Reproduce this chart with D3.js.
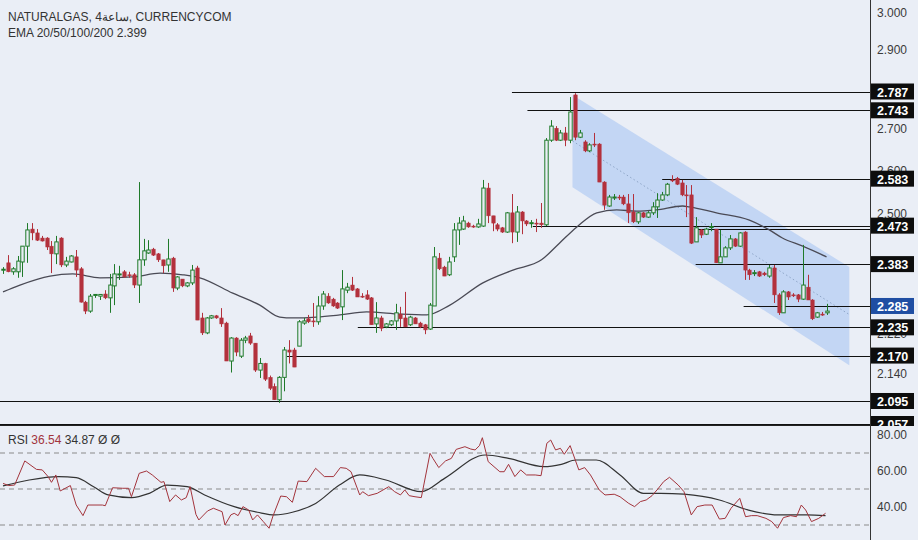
<!DOCTYPE html>
<html><head><meta charset="utf-8">
<script src="https://cdn.jsdelivr.net/npm/d3@7"></script>
<style>body{margin:0;background:#eaeef6;}svg{display:block;font-family:"Liberation Sans",Arial,sans-serif;}</style>
</head><body><svg id="c" width="918" height="540"></svg>
<script>
// candles [open, high, low, close]
const candles = [
[2.369,2.376,2.360,2.371],[2.386,2.404,2.364,2.365],[2.365,2.376,2.358,2.372],[2.365,2.402,2.351,2.390],[2.388,2.425,2.353,2.425],
[2.425,2.479,2.386,2.463],[2.465,2.479,2.439,2.456],[2.456,2.465,2.437,2.439],[2.444,2.449,2.436,2.437],[2.444,2.446,2.416,2.423],
[2.425,2.437,2.362,2.407],[2.407,2.449,2.383,2.435],[2.444,2.446,2.376,2.381],[2.381,2.400,2.376,2.390],[2.388,2.404,2.387,2.402],
[2.400,2.416,2.353,2.369],[2.372,2.376,2.293,2.294],[2.294,2.297,2.266,2.273],[2.273,2.313,2.269,2.308],[2.311,2.313,2.304,2.312],
[2.308,2.313,2.299,2.312],[2.313,2.322,2.301,2.304],[2.304,2.360,2.269,2.334],[2.332,2.383,2.287,2.360],[2.358,2.379,2.346,2.360],
[2.365,2.369,2.351,2.353],[2.358,2.365,2.351,2.357],[2.358,2.362,2.327,2.334],[2.334,2.575,2.292,2.393],[2.393,2.442,2.379,2.414],
[2.409,2.439,2.407,2.416],[2.418,2.421,2.402,2.404],[2.407,2.409,2.388,2.393],[2.393,2.393,2.362,2.379],[2.381,2.442,2.365,2.395],
[2.397,2.400,2.318,2.327],[2.327,2.355,2.322,2.353],[2.348,2.348,2.329,2.332],[2.332,2.341,2.329,2.339],[2.339,2.381,2.334,2.369],
[2.374,2.379,2.252,2.252],[2.257,2.269,2.217,2.222],[2.222,2.259,2.219,2.257],[2.257,2.264,2.255,2.262],[2.262,2.264,2.255,2.257],
[2.257,2.280,2.236,2.243],[2.245,2.248,2.161,2.161],[2.161,2.212,2.142,2.210],[2.210,2.212,2.169,2.177],[2.169,2.210,2.166,2.205],
[2.205,2.215,2.198,2.210],[2.215,2.222,2.194,2.198],[2.198,2.198,2.143,2.146],[2.146,2.166,2.133,2.157],[2.157,2.158,2.128,2.131],
[2.134,2.137,2.113,2.116],[2.119,2.124,2.097,2.097],[2.097,2.136,2.092,2.134],[2.134,2.189,2.111,2.182],[2.182,2.205,2.157,2.177],
[2.182,2.187,2.151,2.151],[2.191,2.252,2.191,2.248],[2.245,2.257,2.241,2.250],[2.255,2.264,2.245,2.248],[2.250,2.292,2.236,2.248],
[2.248,2.308,2.241,2.285],[2.285,2.320,2.276,2.313],[2.308,2.315,2.290,2.292],[2.301,2.304,2.283,2.285],[2.292,2.294,2.278,2.280],
[2.283,2.369,2.252,2.325],[2.322,2.339,2.315,2.329],[2.334,2.353,2.320,2.322],[2.325,2.327,2.306,2.306],[2.308,2.315,2.304,2.307],
[2.311,2.322,2.299,2.301],[2.304,2.306,2.241,2.241],[2.243,2.294,2.222,2.257],[2.257,2.262,2.226,2.233],[2.236,2.245,2.233,2.243],
[2.241,2.252,2.238,2.250],[2.250,2.290,2.229,2.269],[2.266,2.283,2.236,2.255],[2.257,2.318,2.236,2.236],[2.241,2.262,2.238,2.259],
[2.257,2.259,2.243,2.243],[2.245,2.248,2.233,2.236],[2.241,2.243,2.219,2.229],[2.231,2.292,2.229,2.287],[2.285,2.423,2.285,2.400],
[2.397,2.409,2.369,2.372],[2.376,2.379,2.355,2.355],[2.358,2.400,2.355,2.388],[2.400,2.479,2.388,2.463],[2.463,2.493,2.428,2.479],
[2.465,2.496,2.463,2.484],[2.479,2.482,2.468,2.470],[2.472,2.475,2.468,2.470],[2.470,2.489,2.468,2.477],[2.472,2.580,2.470,2.561],
[2.561,2.573,2.479,2.496],[2.496,2.496,2.460,2.479],[2.475,2.479,2.460,2.465],[2.468,2.470,2.456,2.458],[2.458,2.505,2.456,2.503],
[2.503,2.547,2.432,2.458],[2.458,2.519,2.435,2.505],[2.505,2.507,2.453,2.484],[2.484,2.486,2.472,2.477],[2.479,2.486,2.468,2.480],
[2.479,2.489,2.458,2.477],[2.479,2.526,2.468,2.475],[2.475,2.678,2.472,2.673],[2.673,2.720,2.669,2.706],[2.701,2.706,2.671,2.673],
[2.673,2.697,2.671,2.690],[2.690,2.704,2.659,2.673],[2.673,2.774,2.666,2.739],[2.779,2.783,2.673,2.680],[2.680,2.697,2.678,2.690],
[2.669,2.673,2.645,2.648],[2.648,2.666,2.645,2.662],[2.664,2.690,2.657,2.663],[2.664,2.666,2.575,2.575],[2.575,2.577,2.510,2.521],
[2.519,2.545,2.517,2.540],[2.538,2.547,2.533,2.540],[2.540,2.545,2.533,2.539],[2.540,2.545,2.521,2.524],[2.524,2.547,2.479,2.503],
[2.505,2.547,2.479,2.482],[2.482,2.505,2.477,2.503],[2.503,2.505,2.491,2.493],[2.493,2.507,2.491,2.503],[2.503,2.528,2.498,2.517],
[2.517,2.549,2.491,2.533],[2.533,2.552,2.531,2.545],[2.545,2.573,2.542,2.570],[2.580,2.591,2.575,2.579],[2.584,2.587,2.568,2.570],
[2.573,2.580,2.542,2.545],[2.545,2.568,2.493,2.544],[2.545,2.568,2.430,2.432],[2.435,2.493,2.435,2.468],[2.463,2.465,2.444,2.451],
[2.453,2.468,2.451,2.465],[2.470,2.479,2.460,2.471],[2.465,2.465,2.386,2.386],[2.386,2.463,2.386,2.400],[2.400,2.425,2.400,2.421],
[2.421,2.451,2.416,2.442],[2.442,2.444,2.423,2.425],[2.425,2.458,2.423,2.456],[2.458,2.460,2.346,2.369],[2.369,2.372,2.346,2.358],
[2.362,2.369,2.355,2.363],[2.365,2.367,2.353,2.355],[2.362,2.365,2.355,2.358],[2.355,2.381,2.351,2.374],[2.374,2.381,2.292,2.311],
[2.311,2.315,2.264,2.269],[2.269,2.322,2.269,2.318],[2.318,2.320,2.299,2.306],[2.311,2.315,2.306,2.310],[2.311,2.313,2.294,2.301],
[2.301,2.428,2.299,2.334],[2.329,2.358,2.299,2.299],[2.299,2.301,2.252,2.255],[2.259,2.271,2.257,2.269],[2.266,2.271,2.262,2.265],
[2.269,2.290,2.264,2.273]
];
const emaIdx = [0,3.5,9.7,14.4,20,26.8,32.4,37.1,40.6,47.4,53,57.1,59.8,64.7,69.5,75,81.9,87.4,92.2,99,105.2,111.1,114.8,118.4,122.5,126.6,130.7,134.8,140.2,141.6,147.2,154,158.1,160.8,165,169.9];
const emaVal = [2.318,2.334,2.355,2.360,2.351,2.353,2.362,2.358,2.351,2.315,2.287,2.259,2.257,2.259,2.264,2.271,2.266,2.264,2.287,2.339,2.369,2.393,2.432,2.470,2.503,2.510,2.507,2.510,2.519,2.517,2.503,2.486,2.463,2.444,2.425,2.400];
const rsiIdx = [0,1.2,2.4,4.5,6.9,8.1,9.3,10,10.9,11.8,13.9,15.1,16.5,17.5,20.5,21.1,22.6,24.7,25.9,26.5,28.1,29.6,30.8,32.6,33.2,34.4,35.6,36.8,37.8,38.6,39.8,40.4,42.2,43.4,45.2,45.8,47,47.7,48.5,49.5,50.7,51.5,52.5,53.7,54.9,55.7,57.3,58.5,59.7,60.9,62.7,64.5,66.3,68.2,69.6,70.8,71.8,73.6,74.2,75.4,77.2,79.6,80.8,82,82.9,83.8,85,86.3,88.1,88.7,89.9,91.3,92.5,93.5,95.3,96.5,97.4,98.3,98.9,100.1,101.3,102.5,103.4,104.3,105.6,106.8,108,109.8,111,112.2,113,114,115,115.8,117,118.8,120,121.2,123,124.2,126.1,127.3,129.1,130.3,131.5,132.7,133.9,135.1,136.3,137.5,139.3,140.5,142,143.2,144.8,146.3,147.8,149,150.2,152,153.2,154.4,155.6,157.4,158.6,159.8,161,162.5,163.7,164.7,165.6,166.8,168.3,169.7];
const rsiVal = [53.1,51.9,52.2,65.6,60.9,60.6,56.9,53.7,57.8,48.9,51.9,41.1,35.2,41.1,41.1,40.7,50.7,50.4,50.4,45.7,58.7,60.0,57.8,53.7,54.1,43.0,46.7,43.9,45.2,51.3,35.9,32.8,37.8,39.3,37.4,30.0,35.6,36.5,35.2,40.2,38.3,32.8,35.6,31.9,28.2,35.0,46.1,45.7,42.6,54.4,54.1,61.5,56.9,56.9,61.9,61.5,59.6,46.7,48.5,46.3,47.6,51.3,48.5,46.7,49.5,46.3,45.7,45.2,69.8,67.0,61.9,65.6,67.0,72.0,73.5,72.2,71.7,74.1,78.5,65.2,62.4,59.6,59.6,63.7,56.9,60.6,57.8,57.8,57.4,75.4,77.2,71.7,72.6,69.3,74.1,60.6,61.9,57.8,49.5,46.7,47.1,45.7,42.0,40.2,43.0,43.9,46.3,50.0,54.1,56.5,52.2,48.5,35.6,40.2,41.1,41.1,33.3,33.7,39.3,44.8,34.6,35.2,35.2,33.7,31.9,28.2,34.1,35.2,34.6,41.1,38.3,31.9,33.7,36.5];
const rsiMaIdx = [0,5.4,11.5,15.1,18.7,21.7,26.5,30.2,33.8,38,41.6,47.7,52.5,56.1,59.7,64.5,69.4,73.6,79,86.3,91.1,99.5,104.3,111.6,115.2,118.2,122.4,127.3,132.1,135.7,140.5,147.8,153.8,159.8,165.9,169.7];
const rsiMaVal = [51.7,55.0,56.9,56.3,51.3,46.7,45.2,47.6,52.2,51.3,46.7,40.2,37.1,35.6,37.1,42.0,52.2,57.8,55.0,48.5,55.9,68.9,67.0,62.4,63.7,66.1,66.1,57.8,47.6,47.6,47.1,43.9,38.3,35.6,35.6,35.2];
const levelPrices = [2.787,2.743,2.583,2.473,2.465,2.383,2.285,2.235,2.170,2.095,2.057];
const levelStart  = [105,108.2,136,109.3,142.7,142.9,152.8,73.2,58.6,-1,-1];
const levelLabels = ["2.787","2.743","2.583","2.473","","2.383","2.285","2.235","2.170","2.095","2.057"];
const priceTicks = [3.0,2.9,2.7,2.6,2.5,2.22,2.14];
const rsiTicks = [80,60,40];
const rsiDashed = [70,50,30];
const channelIdx = [117.5,174.6];
const channelTop = [2.779,2.376];
const channelBot = [2.563,2.154];
const channelMid = [2.671,2.265];

const svg = d3.select("#c");
const W=918, axisX=870, paneBottom=425;
const x = d3.scaleLinear().domain([0,170]).range([3,827]);
const y = d3.scaleLinear().domain([3.0,2.787,2.1726,2.057]).range([13,91.5,354,424]);
const yr = d3.scaleLinear().domain([80,30]).range([435,525]);

svg.append("rect").attr("width",W).attr("height",540).attr("fill","#eaeef6");
svg.append("clipPath").attr("id","pc").append("rect").attr("x",0).attr("y",0).attr("width",axisX).attr("height",paneBottom);
const g = svg.append("g").attr("clip-path","url(#pc)");

const cp = [[channelIdx[0],channelTop[0]],[channelIdx[1],channelTop[1]],[channelIdx[1],channelBot[1]],[channelIdx[0],channelBot[0]]];
g.append("path").attr("d","M"+cp.map(p=>[x(p[0]),y(p[1])].join(",")).join("L")+"Z").attr("fill","#bcd1f3").attr("opacity",0.85);
g.append("line").attr("x1",x(channelIdx[0])).attr("y1",y(channelMid[0])).attr("x2",x(channelIdx[1])).attr("y2",y(channelMid[1]))
 .attr("stroke","#8fa6c8").attr("stroke-dasharray","1.5,2.5");

levelPrices.forEach((p,i)=>{
  g.append("line").attr("x1",levelStart[i]<0?0:x(levelStart[i])).attr("x2",axisX).attr("y1",Math.round(y(p))+0.5).attr("y2",Math.round(y(p))+0.5).attr("stroke","#111").attr("stroke-width",1);
});

g.append("path").datum(emaIdx.map((d,i)=>[d,emaVal[i]])).attr("fill","none").attr("stroke","#4a4a55").attr("stroke-width",1.3)
 .attr("d",d3.line().x(d=>x(d[0])).y(d=>y(d[1])).curve(d3.curveMonotoneX));

const bw=3.4;
candles.forEach((c,i)=>{
  const [o,h,l,cl]=c, up=cl>=o, col=up?"#1f7a2a":"#b3313c";
  const cx=Math.round(x(i))+0.5;
  g.append("line").attr("x1",cx).attr("x2",cx).attr("y1",y(h)).attr("y2",y(l)).attr("stroke",col).attr("stroke-width",1);
  const t=y(Math.max(o,cl)), b=y(Math.min(o,cl));
  g.append("rect").attr("x",cx-bw/2).attr("y",t).attr("width",bw).attr("height",Math.max(1,b-t))
   .attr("fill",up?"#eaeef6":col).attr("stroke",col).attr("stroke-width",up?1:0.5);
});

svg.append("line").attr("x1",axisX+0.5).attr("x2",axisX+0.5).attr("y1",0).attr("y2",540).attr("stroke","#333");
priceTicks.forEach(t=>{
  svg.append("text").attr("x",877).attr("y",y(t)+4).attr("font-size",12).attr("fill","#3a3a3a").text(t.toFixed(3));
});
levelPrices.forEach((p,i)=>{
  if(!levelLabels[i]) return;
  const yy=y(p);
  const bg = p===2.285?"#1f4ea3":"#0d0d0d";
  svg.append("rect").attr("x",axisX+1).attr("y",yy-8).attr("width",43).attr("height",16).attr("fill",bg);
  svg.append("text").attr("x",877).attr("y",yy+5).attr("font-size",12.5).attr("font-weight","bold").attr("fill","#fff").text(levelLabels[i]);
});
svg.append("rect").attr("x",0).attr("y",paneBottom+1).attr("width",W).attr("height",540-paneBottom).attr("fill","#eaeef6");
svg.append("line").attr("x1",axisX+0.5).attr("x2",axisX+0.5).attr("y1",paneBottom).attr("y2",540).attr("stroke","#333");
svg.append("line").attr("x1",0).attr("x2",axisX).attr("y1",paneBottom+0.5).attr("y2",paneBottom+0.5).attr("stroke","#222");

rsiDashed.forEach(v=>{
  svg.append("line").attr("x1",0).attr("x2",axisX).attr("y1",yr(v)).attr("y2",yr(v)).attr("stroke","#8a8a8a").attr("stroke-dasharray","5,4");
});
rsiTicks.forEach(v=>{
  svg.append("text").attr("x",877).attr("y",yr(v)+4).attr("font-size",12).attr("fill","#3a3a3a").text(v.toFixed(2));
});
svg.append("path").datum(rsiMaIdx.map((d,i)=>[d,rsiMaVal[i]])).attr("fill","none").attr("stroke","#333").attr("stroke-width",1.2)
 .attr("d",d3.line().x(d=>x(d[0])).y(d=>yr(d[1])).curve(d3.curveMonotoneX));
svg.append("path").datum(rsiIdx.map((d,i)=>[d,rsiVal[i]])).attr("fill","none").attr("stroke","#a3343c").attr("stroke-width",1)
 .attr("d",d3.line().x(d=>x(d[0])).y(d=>yr(d[1])));

svg.append("text").attr("x",8).attr("y",21).attr("font-size",12).attr("fill","#333").text("NATURALGAS, 4\u0633\u0627\u0639\u0629, CURRENCYCOM");
svg.append("text").attr("x",8).attr("y",37).attr("font-size",12).attr("fill","#333").text("EMA 20/50/100/200  2.399");
const rl = svg.append("text").attr("x",8).attr("y",444).attr("font-size",12).attr("fill","#333");
rl.append("tspan").text("RSI ");
rl.append("tspan").attr("fill","#a3343c").text("36.54 ");
rl.append("tspan").text("34.87  \u00d8  \u00d8");
</script></body></html>
